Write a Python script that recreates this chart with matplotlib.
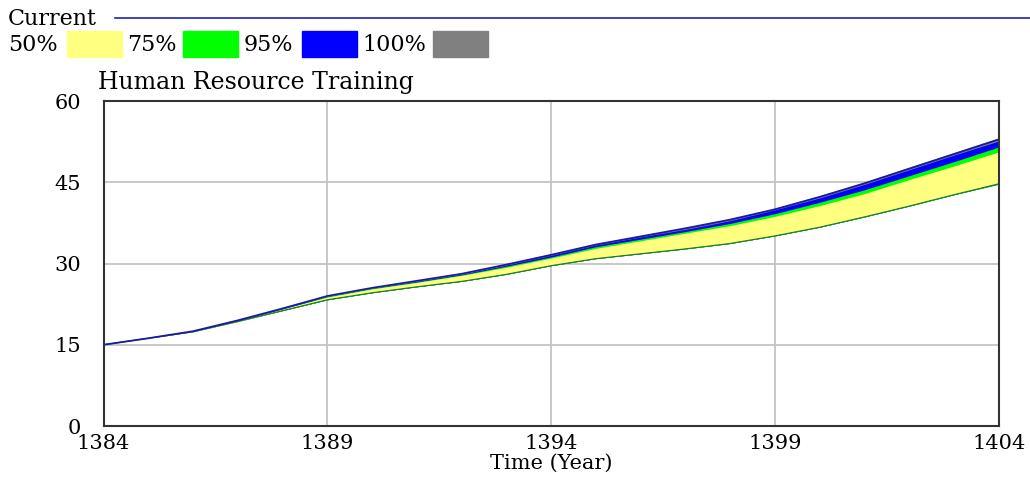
import matplotlib
matplotlib.use("Agg")
import matplotlib.pyplot as plt
from matplotlib.patches import Rectangle
from matplotlib.lines import Line2D

plt.rcParams['font.family'] = ['DejaVu Serif']

# simulation years and sensitivity envelopes
years = list(range(1384, 1405))

upper100 = [15.0, 16.2, 17.5, 19.5, 21.7, 24.0, 25.5, 26.8, 28.1, 29.8, 31.7,
            33.6, 35.1, 36.6, 38.2, 40.2, 42.5, 45.0, 47.8, 50.5, 53.2]
upper95 = [15.0, 16.2, 17.5, 19.5, 21.7, 23.9, 25.4, 26.7, 28.0, 29.7, 31.5,
           33.4, 34.9, 36.3, 37.9, 39.9, 42.1, 44.6, 47.3, 50.0, 52.6]
upper75 = [15.0, 16.2, 17.5, 19.4, 21.6, 23.9, 25.4, 26.6, 27.9, 29.5, 31.2,
           33.1, 34.5, 35.9, 37.4, 39.2, 41.3, 43.6, 46.2, 48.8, 51.5]
upper50 = [15.0, 16.2, 17.5, 19.4, 21.6, 23.8, 25.3, 26.5, 27.8, 29.3, 31.0,
           32.8, 34.2, 35.6, 37.0, 38.7, 40.7, 42.9, 45.5, 48.0, 50.6]
lower50 = [15.0, 16.2, 17.4, 19.3, 21.4, 23.4, 24.7, 25.8, 26.8, 28.1, 29.7,
           31.0, 31.9, 32.8, 33.8, 35.2, 36.8, 38.7, 40.7, 42.8, 44.9]
lower75 = [15.0, 16.2, 17.4, 19.3, 21.3, 23.3, 24.6, 25.7, 26.7, 28.0, 29.6,
           30.9, 31.8, 32.7, 33.7, 35.1, 36.7, 38.6, 40.6, 42.7, 44.7]
lower95 = [15.0, 16.2, 17.4, 19.3, 21.3, 23.3, 24.6, 25.7, 26.7, 28.0, 29.6,
           30.9, 31.8, 32.7, 33.7, 35.1, 36.7, 38.6, 40.6, 42.7, 44.7]
lower100 = [15.0, 16.2, 17.4, 19.3, 21.3, 23.3, 24.6, 25.7, 26.7, 28.0, 29.6,
            30.9, 31.8, 32.7, 33.7, 35.1, 36.7, 38.6, 40.6, 42.7, 44.6]
current = [15.0, 16.2, 17.5, 19.5, 21.7, 24.0, 25.5, 26.8, 28.1, 29.8, 31.6,
           33.5, 35.0, 36.5, 38.1, 40.0, 42.3, 44.8, 47.5, 50.2, 52.9]

band_labels = ['50%', '75%', '95%', '100%']
band_colors = ['#ffff80', '#00ff00', '#0000ff', '#808080']

fig = plt.figure(figsize=(10.3, 4.8), dpi=100)
ax = fig.add_axes([0.1005, 0.1125, 0.869, 0.677])

ax.fill_between(years, lower100, upper100, color=band_colors[3], lw=0)
ax.fill_between(years, lower95, upper95, color=band_colors[2], lw=0)
ax.fill_between(years, lower75, upper75, color=band_colors[1], lw=0)
ax.fill_between(years, lower50, upper50, color=band_colors[0], lw=0)
ax.plot(years, lower75, color='#1a7a1a', lw=0.8)
ax.plot(years, current, color='#1a1aa0', lw=1.3)

ax.set_xlim(1384, 1404)
ax.set_ylim(0, 60)
ax.set_xticks([1384, 1389, 1394, 1399, 1404])
ax.set_yticks([0, 15, 30, 45, 60])
ax.grid(True, color='#c4c4c4', lw=1.3)
ax.set_axisbelow(True)
ax.tick_params(length=0, labelsize=15, pad=6)
ax.tick_params(axis='y', pad=16)
for s in ax.spines.values():
    s.set_color('#333333')
    s.set_linewidth(1.5)

ax.set_xlabel('Time (Year)', fontsize=15, labelpad=0)
fig.text(98 / 1030, 1 - 82 / 480, 'Human Resource Training', fontsize=17,
         ha='left', va='center')

# legend header: current run line and confidence bands
fig.text(8 / 1030, 1 - 19 / 480, 'Current', fontsize=16, ha='left', va='center')
fig.add_artist(Line2D([115 / 1030, 1.0], [1 - 18 / 480] * 2,
                      color='#2020c0', lw=1.2, transform=fig.transFigure))
text_x = [8, 127, 244, 362]
box_x = [67, 183, 302, 433]
for lab, col, tx, bx in zip(band_labels, band_colors, text_x, box_x):
    fig.text(tx / 1030, 1 - 45 / 480, lab, fontsize=16, ha='left', va='center')
    fig.add_artist(Rectangle((bx / 1030, 1 - 57 / 480), 55 / 1030, 26 / 480,
                             color=col, transform=fig.transFigure))

fig.savefig('out.png', dpi=100)
